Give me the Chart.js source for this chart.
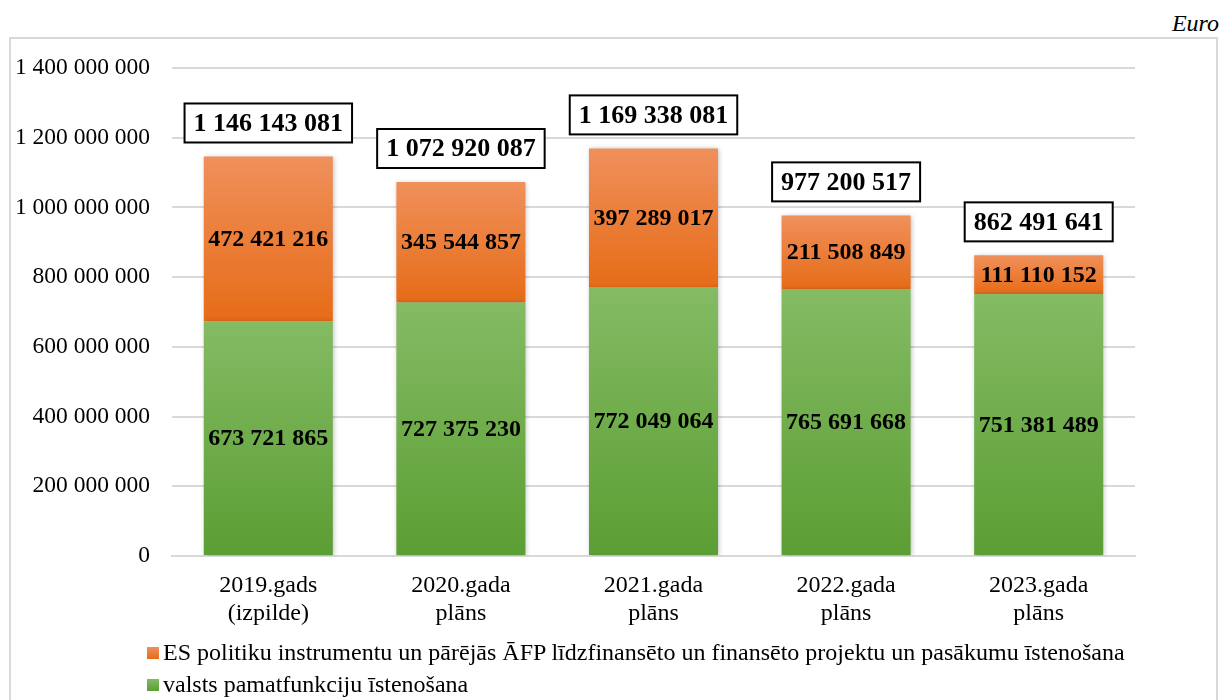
<!DOCTYPE html>
<html lang="lv">
<head>
  <meta charset="UTF-8">
  <title>Izdevumi</title>
  <script src="https://cdn.jsdelivr.net/npm/chart.js"></script>
  <style>
    body {
      margin: 0;
      background: #fff;
      font-family: "Liberation Serif", "Times New Roman", serif;
    }
    .euro {
      position: absolute;
      right: 3px;
      top: 10px;
      font-size: 24px;
      font-style: italic;
    }
    .frame {
      position: absolute;
      left: 9px;
      top: 37px;
      width: 1209px;
      height: 680px;
      border: 2px solid #d9d9d9;
      box-sizing: border-box;
    }
    .wrap {
      position: absolute;
      left: 0;
      top: 0;
      width: 1222px;
      height: 640px;
    }
    .legend {
      position: absolute;
      left: 147px;
      top: 636px;
      font-size: 24px;
      line-height: 32px;
    }
    .legend span.sq {
      display: inline-block;
      width: 12px;
      height: 12px;
      margin-right: 4px;
      vertical-align: 1px;
    }
  </style>
</head>
<body>
  <div class="euro">Euro</div>
  <div class="frame"></div>
  <div class="wrap"><canvas id="chart"></canvas></div>
  <div class="legend">
    <div><span class="sq" style="background:linear-gradient(#f0905c,#e66c17)"></span>ES politiku instrumentu un pārējās ĀFP līdzfinansēto un finansēto projektu un pasākumu īstenošana</div>
    <div><span class="sq" style="background:linear-gradient(#84bb64,#5b9e33)"></span>valsts pamatfunkciju īstenošana</div>
  </div>

  <script>
    const categories = [
      ['2019.gads', '(izpilde)'],
      ['2020.gada', 'plāns'],
      ['2021.gada', 'plāns'],
      ['2022.gada', 'plāns'],
      ['2023.gada', 'plāns']
    ];
    const pamatfunkcijas = [673721865, 727375230, 772049064, 765691668, 751381489];
    const esProjekti = [472421216, 345544857, 397289017, 211508849, 111110152];
    const yMax = 1400000000;
    const yStep = 200000000;

    const FONT = '"Liberation Serif", "Times New Roman", serif';

    function fmt(n) {
      return String(Math.round(n)).replace(/\B(?=(\d{3})+(?!\d))/g, ' ');
    }

    // vertikālais gradients katram segmentam
    function segGradient(ctx, lower, upper, cTop, cBottom, fallback) {
      const chart = ctx.chart;
      const y = chart.scales.y;
      if (!chart.chartArea || !y || ctx.dataIndex === undefined) return fallback;
      const lo = lower[ctx.dataIndex] || 0;
      const top = y.getPixelForValue(lo + upper[ctx.dataIndex]);
      const bot = y.getPixelForValue(lo);
      if (!isFinite(top) || !isFinite(bot) || top === bot) return fallback;
      const g = chart.ctx.createLinearGradient(0, top, 0, bot);
      g.addColorStop(0, cTop);
      g.addColorStop(1, cBottom);
      return g;
    }

    const zeros = pamatfunkcijas.map(() => 0);

    const shadowPlugin = {
      id: 'shadow',
      beforeDatasetsDraw(chart) {
        const c = chart.ctx;
        c.save();
        c.shadowColor = 'rgba(0,0,0,0.28)';
        c.shadowBlur = 5;
        c.shadowOffsetX = 1;
        c.shadowOffsetY = 1;
      },
      afterDatasetsDraw(chart) {
        chart.ctx.restore();
      }
    };

    const labelsPlugin = {
      id: 'labels',
      afterDatasetsDraw(chart) {
        const c = chart.ctx;
        c.save();
        c.textAlign = 'center';
        c.textBaseline = 'middle';
        c.fillStyle = '#000';
        c.font = 'bold 24px ' + FONT;
        chart.data.datasets.forEach((ds, di) => {
          const meta = chart.getDatasetMeta(di);
          meta.data.forEach((bar, i) => {
            c.fillText(fmt(ds.data[i]), bar.x, (bar.y + bar.base) / 2 + 1);
          });
        });
        // kopsummas rāmītī
        const topMeta = chart.getDatasetMeta(1);
        c.font = 'bold 26px ' + FONT;
        topMeta.data.forEach((bar, i) => {
          const txt = fmt(pamatfunkcijas[i] + esProjekti[i]);
          const w = c.measureText(txt).width + 18;
          const h = 39;
          const bottom = bar.y - 14;
          c.fillStyle = '#fff';
          c.fillRect(bar.x - w / 2, bottom - h, w, h);
          c.lineWidth = 2;
          c.strokeStyle = '#000';
          c.strokeRect(bar.x - w / 2, bottom - h, w, h);
          c.fillStyle = '#000';
          c.fillText(txt, bar.x, bottom - h / 2 + 1);
        });
        c.restore();
      }
    };

    new Chart(document.getElementById('chart'), {
      type: 'bar',
      data: {
        labels: categories,
        datasets: [
          {
            label: 'valsts pamatfunkciju īstenošana',
            data: pamatfunkcijas,
            backgroundColor: ctx => segGradient(ctx, zeros, pamatfunkcijas, '#84bb64', '#5b9e33', '#70ad47')
          },
          {
            label: 'ES politiku instrumentu un pārējās ĀFP līdzfinansēto un finansēto projektu un pasākumu īstenošana',
            data: esProjekti,
            backgroundColor: ctx => segGradient(ctx, pamatfunkcijas, esProjekti, '#f0905c', '#e66c17', '#ed7d31')
          }
        ]
      },
      options: {
        responsive: true,
        maintainAspectRatio: false,
        animation: false,
        layout: { padding: { left: 0, right: 87, top: 68, bottom: 0 } },
        datasets: { bar: { categoryPercentage: 1, barPercentage: 0.67 } },
        plugins: {
          legend: { display: false },
          tooltip: { enabled: false }
        },
        scales: {
          x: {
            stacked: true,
            grid: { display: false },
            border: { color: '#d9d9d9', width: 2 },
            ticks: {
              color: '#000',
              padding: 8,
              maxRotation: 0,
              font: { family: FONT, size: 24, lineHeight: 1.17 }
            },
            afterFit(axis) { axis.height = 84; }
          },
          y: {
            stacked: true,
            min: 0,
            max: yMax,
            border: { display: false },
            grid: { color: '#d9d9d9', lineWidth: 2, drawTicks: false },
            ticks: {
              stepSize: yStep,
              color: '#000',
              padding: 22,
              font: { family: FONT, size: 23.5 },
              callback: v => fmt(v)
            },
            afterFit(axis) { axis.width = 172; }
          }
        }
      },
      plugins: [shadowPlugin, labelsPlugin]
    });
  </script>
</body>
</html>
